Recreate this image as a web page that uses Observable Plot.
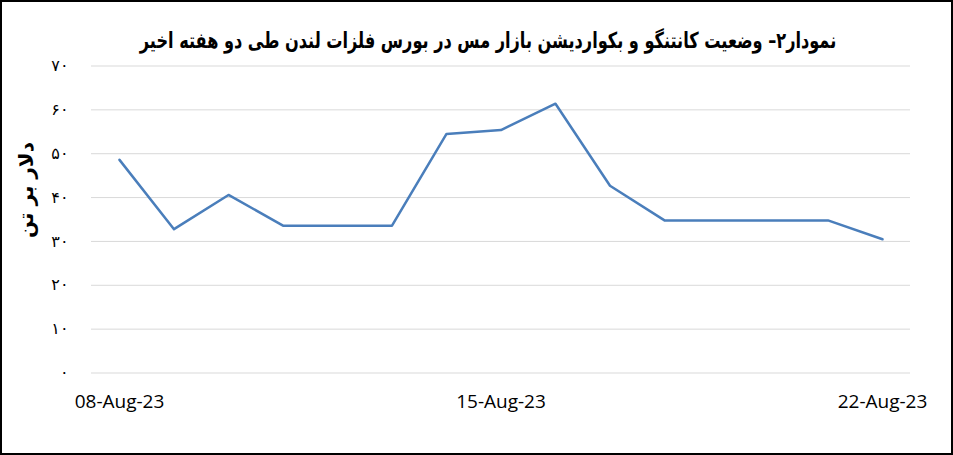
<!DOCTYPE html>
<html>
<head>
<meta charset="utf-8">
<script src="https://cdn.jsdelivr.net/npm/d3@7"></script>
<script src="https://cdn.jsdelivr.net/npm/@observablehq/plot@0.6"></script>
<style>
  html, body { margin: 0; padding: 0; background: #fff; }
  #wrap { position: relative; width: 953px; height: 455px; overflow: hidden; background: #fff; }
  #frame { position: absolute; left: 0; top: 0; width: 953px; height: 455px; box-sizing: border-box; border: 2px solid #000; pointer-events: none; }
  #title { position: absolute; left: 488px; top: 40px; transform: translate(-50%, -50%) scaleX(0.815); direction: rtl; white-space: nowrap;
           font-family: "DejaVu Sans Condensed", "DejaVu Sans", sans-serif; font-weight: bold; font-size: 22px; color: #000; }
  #ylab { position: absolute; left: 26px; top: 190px; transform: translate(-50%, -50%) rotate(-90deg); direction: rtl;
          font-family: "DejaVu Sans", sans-serif; font-weight: bold; font-size: 20px; white-space: nowrap; }
  #chart { position: absolute; left: 0; top: 0; }
</style>
</head>
<body>
<div id="wrap">
  <div id="chart"></div>
  <div id="title">نمودار۲– وضعیت کانتنگو و بکواردیشن بازار مس در بورس فلزات لندن طی دو هفته اخیر</div>
  <div id="ylab">دلار بر تن</div>
  <div id="frame"></div>
</div>
<script>
const dates = ["2023-08-08","2023-08-09","2023-08-10","2023-08-11","2023-08-12","2023-08-13","2023-08-14","2023-08-15","2023-08-16","2023-08-17","2023-08-18","2023-08-19","2023-08-20","2023-08-21","2023-08-22"];
const values = [48.6, 32.8, 40.6, 33.6, 33.6, 33.6, 54.5, 55.4, 61.4, 42.7, 34.8, 34.8, 34.8, 34.8, 30.5];
const yTicks = [0, 10, 20, 30, 40, 50, 60, 70];
const xTicks = ["2023-08-08", "2023-08-15", "2023-08-22"];
const months = ["Jan","Feb","Mar","Apr","May","Jun","Jul","Aug","Sep","Oct","Nov","Dec"];

const faDigits = "۰۱۲۳۴۵۶۷۸۹";
const toFa = n => String(n).replace(/[0-9]/g, d => faDigits[+d]);
const fmtDate = d => `${String(d.getUTCDate()).padStart(2,"0")}-${months[d.getUTCMonth()]}-${String(d.getUTCFullYear()).slice(2)}`;

const data = dates.map((d, i) => ({date: new Date(d + "T00:00:00Z"), value: values[i]}));

const chart = Plot.plot({
  width: 953,
  height: 455,
  marginLeft: 91,
  marginRight: 43,
  marginTop: 65.5,
  marginBottom: 82.5,
  style: {fontFamily: "DejaVu Sans, sans-serif", background: "transparent"},
  x: {type: "utc", domain: [new Date("2023-08-08T00:00:00Z"), new Date("2023-08-22T00:00:00Z")], insetLeft: 28, insetRight: 28},
  y: {domain: [0, 70]},
  marks: [
    Plot.gridY(yTicks, {stroke: "#d9d9d9", strokeOpacity: 1, strokeWidth: 1}),
    Plot.axisY(yTicks, {tickSize: 0, tickPadding: 23, tickFormat: toFa, fontSize: 16, label: null, fill: "#000"}),
    Plot.axisX(xTicks.map(d => new Date(d + "T00:00:00Z")), {tickSize: 0, tickPadding: 21, tickFormat: fmtDate, fontSize: 19, label: null,
      fontFamily: "Open Sans, sans-serif", fill: "#000"}),
    Plot.line(data, {x: "date", y: "value", stroke: "#4a7ebb", strokeWidth: 2.5})
  ]
});
document.getElementById("chart").appendChild(chart);
</script>
</body>
</html>
